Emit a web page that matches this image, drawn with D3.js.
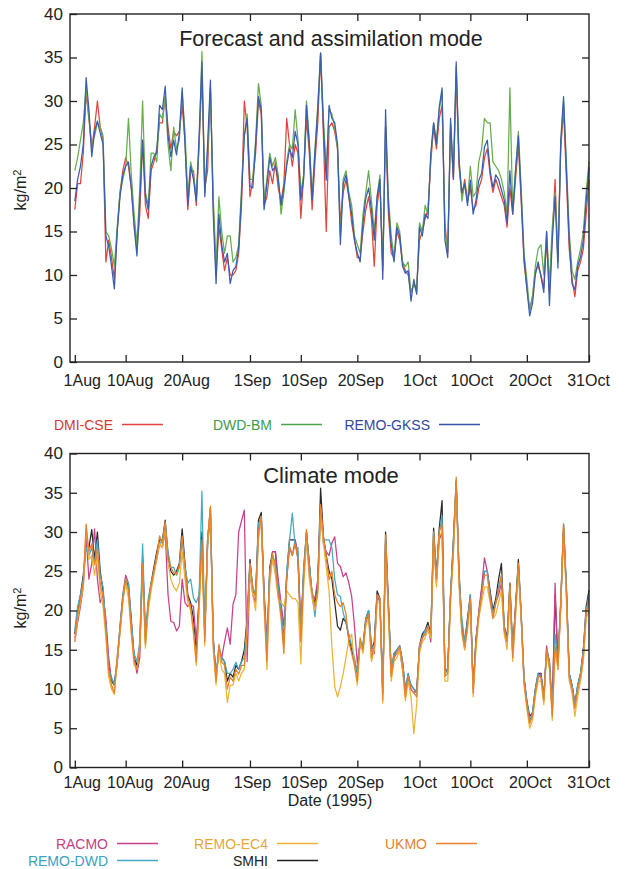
<!DOCTYPE html>
<html>
<head>
<meta charset="utf-8">
<script src="https://cdn.jsdelivr.net/npm/d3@7"></script>
<style>
  body { margin: 0; background: #fff; }
  svg { display: block; }
  text { font-family: "Liberation Sans", Arial, Helvetica, sans-serif; fill: #222; }
</style>
</head>
<body>
<svg id="chart" width="629" height="869"></svg>
<script>
// Precipitable water (kg/m2), 1 Aug – 31 Oct 1995, sampled every 12 hours.
// Day 0 = 1 Aug 00 UTC.
const tickDays   = [0, 9, 19, 31, 40, 50, 61, 70, 80, 91];
const tickLabels = ["1Aug", "10Aug", "20Aug", "1Sep", "10Sep", "20Sep", "1Oct", "10Oct", "20Oct", "31Oct"];
const yTicks     = [0, 5, 10, 15, 20, 25, 30, 35, 40];
const sampleStep = 0.5; // days between samples

// ---- Forecast and assimilation mode ----
const dmiCse = [
  17.5, 20.5, 20.5, 24, 31, 28, 24.5, 27, 30, 27,
  25.5, 11.5, 14, 12, 9.5, 15, 19.5, 22, 23.5, 22.5,
  20, 16, 13, 17, 25.5, 18, 16.5, 22, 23, 24.5,
  27.5, 27.5, 30.5, 27, 24.5, 26.5, 26, 26.5, 29.5, 25.5,
  17.5, 22, 22, 18, 25, 33, 20, 22, 31.5, 18,
  10, 15.5, 13, 10.5, 12, 10, 10, 10.5, 12.5, 18,
  30, 27, 19, 21, 24, 30, 28.5, 18, 19, 22,
  20.5, 23, 20, 18.5, 20.5, 28, 25, 22.5, 25, 24,
  16.5, 21.5, 28, 24, 17.5, 23, 27.5, 35.5, 26, 15,
  27, 27.5, 26.5, 24.5, 16, 19.5, 21, 19, 16, 14,
  12, 12, 15, 17.5, 19, 16.5, 11, 18, 20.5, 11,
  27, 17, 12.5, 12, 15, 14, 11.5, 10.5, 10, 8,
  9, 8.5, 14, 15, 16.5, 17.5, 23, 27, 24.5, 28,
  29.5, 16, 12.5, 27, 21, 33, 22.5, 19, 21, 18.5,
  20, 17.5, 18, 20, 21, 23.5, 24.5, 21.5, 19.5, 21,
  20, 19, 18, 15.5, 20, 17, 21, 25, 18.5, 11.5,
  8.5, 6, 7.5, 10.5, 11, 10, 8.5, 14, 8, 14.5,
  21, 11.5, 24.5, 29, 21, 13, 9.5, 7.5, 10.5, 11.5,
  13, 17, 21
];
const dwdBm = [
  22, 23.5, 25.5, 27.5, 31.5, 28, 25, 26, 27.5, 27,
  26, 15, 14.5, 13, 11, 15.5, 19.5, 21, 22.5, 28,
  21.5, 17, 13.5, 20, 30, 19.5, 18, 24, 24, 23,
  28.5, 28, 30.5, 25, 22, 27, 24.5, 25.5, 31, 26.5,
  19, 23, 21.5, 19, 25, 35.7, 19.5, 24, 31.5, 19,
  11, 19, 15, 12.5, 14.5, 14.5, 11.5, 12, 13.5, 20,
  26, 28.5, 21, 21, 25.5, 32, 29.5, 18.5, 21, 24,
  22.5, 23.5, 21.5, 17, 19.5, 23, 25, 24.5, 29, 25.5,
  19.5, 21.5, 30, 25.5, 19, 24.5, 29.5, 35.5, 28, 22,
  29, 28.5, 27, 24.5, 14.5, 21, 22, 19.5, 18, 14.5,
  13.5, 12.5, 17, 19.5, 22, 18.5, 15, 19, 21.5, 10.5,
  27, 19, 14.5, 12, 16, 15, 11.5, 11, 11.5, 8,
  9, 8, 16, 15, 18, 17, 23.5, 27.5, 25.5, 29,
  31, 15, 13, 27.5, 21.5, 34, 23.5, 18.5, 20.5, 18.5,
  22.5, 19, 19.5, 23, 24.5, 28, 27.5, 27.5, 23, 22.5,
  22, 21, 19.5, 17, 31.5, 17.5, 22, 26.5, 20, 12.5,
  9.5, 6, 7.5, 11, 13, 13.5, 10, 15, 9, 15.5,
  19.5, 12, 25, 30, 23, 15, 10.5, 9.5, 11.5, 13,
  15, 19.5, 23
];
const remoGkss = [
  18.5, 21, 22.5, 25, 32.7, 29, 23.6, 26.5, 27.7, 26.3,
  25, 14.5, 13.3, 11, 8.4, 15, 19, 21.5, 22.5, 23,
  20, 15.5, 12.2, 18.6, 25.5, 19, 17.5, 22.5, 23.6, 24,
  29.5, 29, 31.7, 26, 23.6, 25.5, 23.8, 26.3, 31.5, 25,
  18, 22.5, 21, 18.5, 26, 34.5, 19, 25, 32.4, 17,
  9, 17, 13.5, 11.5, 12.5, 9, 10.5, 11, 13, 19,
  26, 28, 20.2, 20, 25, 30.5, 29, 17.5, 20.5, 23.5,
  22, 22.5, 21, 18, 20, 22.5, 24.5, 23.5, 26.5, 25,
  18.6, 21, 29.5, 25, 18.6, 24, 29, 35.5, 27, 20.9,
  29.5, 28, 27.5, 25, 13.5, 20.5, 21.5, 19, 17, 14,
  12.5, 11.5, 16, 18.8, 20, 17.5, 14, 19, 21, 9.5,
  29, 18, 13.5, 11.5, 15.5, 14.5, 11, 10.2, 10.5, 7,
  9.5, 7.8, 15.5, 14.5, 17, 16.5, 24, 27.5, 25, 29.3,
  31.5, 14, 12, 28, 21, 34.5, 23, 19.5, 20.5, 18,
  20.9, 17, 18.6, 20.9, 21.7, 24.7, 25.5, 22, 20, 21.5,
  21, 19.8, 18.6, 16, 22, 17, 22, 26, 19, 12,
  8.5, 5.3, 6.7, 10, 11.5, 9.8, 8, 15, 6.5, 14,
  19, 10.8, 25.5, 30.5, 22, 14, 9, 8.3, 11, 12.1,
  14, 18.5, 22.4
];

// ---- Climate mode ----
const racmo = [
  16, 18.5, 20.5, 23, 29.5, 24, 26, 30.4, 24, 21,
  22, 19, 14, 11, 11, 13, 18, 22, 24.5, 23.5,
  19, 14, 12, 14, 27, 16, 20.5, 23, 25, 26.5,
  28.5, 28, 30, 22, 18.6, 18.5, 17.4, 18, 24, 21,
  20.5, 20.8, 20.5, 16, 21.5, 28, 17, 28.5, 32, 16,
  12, 14.5, 14, 16, 17.8, 15.7, 20.8, 22, 30, 31.4,
  32.8, 13.5, 25, 22, 21, 30, 31.5, 22.5, 16, 24,
  27.5, 27.5, 24, 21, 18, 24, 28, 27, 29, 27,
  18, 24.5, 29, 25.5, 22, 21.5, 24, 33, 28.5, 27.5,
  27, 28.6, 29.4, 26, 25.6, 24.3, 24.8, 23.5, 21.8, 18,
  13.3, 16, 15, 18.5, 19.5, 15, 14.5, 22, 21, 10,
  28.5, 20.5, 12, 14, 15, 15, 12.5, 10, 12, 10,
  9.5, 10, 15, 16.5, 17, 18, 16, 29, 23.5, 29,
  30, 12.5, 12.5, 22, 28, 36, 24, 17.5, 15, 18.5,
  21.5, 10, 16, 20, 23, 26.7, 25, 22, 19.5, 21,
  22, 23.5, 17.5, 16, 22, 14.5, 20.5, 25.5, 19, 11,
  8, 6, 6.5, 9.5, 11.5, 12, 8.5, 15.5, 13, 7,
  23.5, 12.5, 20.5, 30, 22.5, 11.5, 10.5, 8, 10, 11.5,
  14, 19.5, 21.5
];
const remoDwd = [
  17.5, 20.5, 22, 24, 28, 27, 28, 26, 29, 24.5,
  23, 18, 12.5, 11.5, 10.5, 14, 18, 22, 24, 23.5,
  18.5, 14.5, 13.5, 16, 28.5, 17, 21.5, 23.5, 25, 27,
  28.5, 29, 31, 27.5, 25.5, 25.5, 24.5, 25.5, 29, 25.5,
  23.5, 24, 21.6, 21, 22, 35.2, 17, 28, 32.5, 16.5,
  11.5, 15.5, 14, 13.5, 12, 12, 12.5, 13.4, 12.5, 13.5,
  14, 18.5, 26, 23, 22, 31, 32, 22, 15, 25,
  27, 26, 23, 20, 16, 25, 29, 32.4, 28, 28,
  17, 25.5, 30, 26, 22, 19.2, 23, 33, 29, 29,
  29, 28, 24, 22, 21.8, 19.7, 18.5, 17, 15.5, 14,
  12, 16, 15.5, 19, 20, 15.5, 15, 22, 21.5, 9.5,
  29, 20.5, 12.5, 14.5, 15, 15.5, 13.5, 10, 12, 10.5,
  10, 9.5, 15.5, 16.5, 17.5, 18, 16.5, 30, 24, 30,
  32, 12, 12.5, 22, 28.5, 36.5, 24.5, 19, 16, 18.5,
  22, 10, 16, 19.5, 22, 25, 25, 22, 19.5, 21,
  23, 24.5, 18, 16, 23, 14.5, 20, 26, 19.5, 11.5,
  8.5, 6, 7, 10, 12, 11.5, 9, 15, 13.5, 7.5,
  17, 13.5, 21, 30.5, 23, 12, 10.5, 8, 10.5, 12,
  15, 20, 22
];
const smhi = [
  17, 20, 22, 24.5, 28.5, 28, 30.3, 26.5, 30, 25,
  22.5, 18, 13, 11, 10.5, 13.5, 17.5, 21.5, 24, 23,
  18.5, 14, 13, 15.5, 26.5, 16.5, 21, 23.5, 25.5, 27.5,
  29, 29, 31.5, 27, 25, 24.5, 25, 26, 30.4, 26,
  22, 21, 19, 15, 21.5, 30, 17, 29, 33, 16.5,
  11.5, 15, 14, 13.5, 11, 12, 11.5, 13, 12.5, 13.5,
  15, 19, 26.5, 22.5, 22, 31.5, 32.5, 22, 15, 25.5,
  27.5, 27.5, 23, 20, 16, 24.5, 29, 29, 29, 26.5,
  17, 25, 30, 26, 22, 21, 23.5, 35.6, 29.4, 27,
  25, 24, 21, 18, 17.5, 19, 18.5, 16.5, 15, 13.5,
  12, 16, 15.5, 19, 20, 15, 16, 22.5, 21.5, 9.5,
  30, 21, 12, 14.5, 15, 15.5, 13.5, 10, 11.5, 10.5,
  10, 9.5, 15.5, 17, 17.5, 18.5, 17, 30.5, 24.5, 30.5,
  34, 12, 12.5, 22, 29, 36.5, 25, 18, 16, 19,
  22, 10, 16.5, 19.5, 22.5, 25, 25, 22.5, 20, 21.5,
  24, 26, 18, 16.5, 23.5, 15, 20.5, 26.5, 19.5, 11.5,
  8.5, 6.5, 7, 10, 12, 12, 9, 15, 13.5, 7,
  22, 13.5, 21, 31, 23, 12, 10.5, 8, 10.5, 12,
  15, 20.5, 22.6
];
const remoEc4 = [
  16, 19, 21, 23, 30.5, 26.5, 27, 24.5, 27, 22.5,
  20.5, 16.5, 11.5, 10, 9.3, 13.5, 17, 21, 23.5, 21.5,
  17, 13, 12.5, 15.5, 24.5, 15.2, 20, 22.5, 24.5, 26.5,
  28.5, 28, 30.5, 26, 24, 23, 22.5, 23.5, 27.5, 24,
  21, 20, 17, 13, 20, 27.5, 15.5, 28.5, 33, 15,
  10.5, 15, 12.5, 12, 8.3, 10.5, 10.5, 12, 11, 12,
  12.5, 17.5, 25, 22, 20, 29, 31.5, 20.5, 12.5, 23.5,
  26.5, 24.5, 21.5, 21, 20.5, 22.5, 22, 21.5, 21.5, 21,
  13.2, 23, 29, 24, 21.5, 20, 22, 32.5, 28.5, 25.5,
  22.5, 15.4, 10.3, 9, 10.3, 12, 14.1, 16.2, 17, 13,
  10.5, 16, 14.5, 18, 19, 13.5, 15, 21, 21, 8.2,
  28.5, 19, 11, 13.5, 14, 15, 12.5, 8.5, 11, 9,
  4.3, 8, 14.5, 16, 16.5, 17.5, 16.5, 29.5, 23, 29.5,
  30, 11, 11, 21, 27, 36, 23, 17, 15, 17.5,
  21, 9, 15, 19, 21, 23, 23, 21, 19, 19.5,
  21, 22.5, 17, 15, 22, 13.5, 19, 25, 19, 10.5,
  7.5, 5, 6, 9, 11, 11, 8, 14.5, 12.5, 6,
  15, 12.5, 20.5, 30.5, 21.5, 11, 9.5, 6.5, 9, 11,
  13.5, 19, 20
];
const ukmo = [
  16.5, 19.5, 21.5, 23.5, 31, 27.5, 28.5, 25.8, 28, 23.5,
  21.6, 17.4, 12.3, 10.5, 9.5, 14, 17.5, 21.5, 24, 22.5,
  17.5, 13.5, 12.5, 15, 26, 15.7, 20.8, 23.3, 25, 27,
  29.5, 28.5, 31.3, 26.5, 25.5, 24.8, 24.6, 25.8, 29.5, 25.5,
  21.6, 20.5, 17.5, 13.5, 21, 29, 16, 29, 33.3, 15.7,
  11, 15.7, 13.5, 13, 10, 11.5, 11, 12.5, 11.9, 13,
  13, 18, 26, 23, 21.5, 30, 32, 21, 13.5, 25,
  27.3, 25.5, 22, 19, 14.5, 24, 28.2, 27, 28.5, 26.5,
  16, 24, 30.3, 25, 22.5, 20.5, 22.5, 33.5, 29.4, 26.9,
  23.9, 25, 22, 21, 20.5, 21, 19.5, 16, 14.5, 13,
  11, 16.5, 15, 18.8, 19.5, 14, 15.5, 22, 21.5, 8.6,
  29.6, 20, 11.6, 14, 14.5, 15.4, 13, 9, 11.6, 9.9,
  9.5, 9, 15.5, 16.5, 17, 18, 17, 30, 24, 30,
  31, 11.6, 12, 21.8, 28, 37, 24, 17.5, 15.4, 18,
  21.5, 9.5, 15.8, 19.5, 22, 24.5, 24.5, 21.5, 19, 20.9,
  22.5, 24.5, 17.5, 16, 23.5, 14, 20, 26, 19.5, 11,
  8, 5.6, 6.5, 9.5, 11.6, 11.5, 8.6, 15, 13, 6.5,
  15.5, 13, 21, 31, 22, 11.6, 10, 7.5, 10, 11.6,
  14.5, 20, 21
];

const days = ukmo.map((_, i) => i * sampleStep);

const panels = [
  {
    title: "Forecast and assimilation mode", titleY: 46, titleSize: 21.5,
    top: 14, bottom: 362, labelPad: 13, ylabelY: 190,
    series: [
      { name: "DMI-CSE",   values: dmiCse,   color: "#e2443c" },
      { name: "DWD-BM",    values: dwdBm,    color: "#66ad4e" },
      { name: "REMO-GKSS", values: remoGkss, color: "#3a5eae" }
    ]
  },
  {
    title: "Climate mode", titleY: 483, titleSize: 22,
    top: 453.5, bottom: 767.5, labelPad: 9, ylabelY: 608,
    series: [
      { name: "SMHI",     values: smhi,    color: "#2a2a2a" },
      { name: "RACMO",    values: racmo,   color: "#c8418a" },
      { name: "REMO-DWD", values: remoDwd, color: "#44a8c6" },
      { name: "REMO-EC4", values: remoEc4, color: "#eeb236" },
      { name: "UKMO",     values: ukmo,    color: "#e6812c" }
    ]
  }
];

// horizontal nudges for the date labels (first one clears the "0")
const labelShift = [7, 4, 4, 2, 3, 3, 0, 1, 3, -1];

const svg = d3.select("#chart");
const x = d3.scaleLinear().domain([-0.85, 91]).range([70, 589]);

panels.forEach(p => {
  const y = d3.scaleLinear().domain([0, 40]).range([p.bottom, p.top]);
  const g = svg.append("g");

  const line = d3.line()
    .x((d, i) => x(days[i]))
    .y(d => y(d));

  p.series.forEach(s => {
    g.append("path")
      .attr("d", line(s.values))
      .attr("fill", "none")
      .attr("stroke", s.color)
      .attr("stroke-width", 1.25)
      .attr("stroke-linejoin", "round");
  });

  // inward ticks on all four sides
  const axL = g.append("g").attr("transform", `translate(${x.range()[0]},0)`)
    .call(d3.axisLeft(y).tickValues(yTicks).tickSize(-7).tickPadding(7));
  axL.selectAll("text").style("font-size", "17px");

  g.append("g").attr("transform", `translate(${x.range()[1]},0)`)
    .call(d3.axisRight(y).tickValues(yTicks.slice(1, -1)).tickSize(-7).tickFormat(""));

  const axB = g.append("g").attr("transform", `translate(0,${p.bottom})`)
    .call(d3.axisBottom(x).tickValues(tickDays).tickSize(-7).tickPadding(p.labelPad)
      .tickFormat((d, i) => tickLabels[i]));
  axB.selectAll("text").style("font-size", "16px")
    .attr("dx", (d, i) => labelShift[i]);

  g.append("g").attr("transform", `translate(0,${p.top})`)
    .call(d3.axisTop(x).tickValues(tickDays.slice(1, -1)).tickSize(-7).tickFormat(""));

  g.selectAll(".domain").remove();
  g.selectAll(".tick line").attr("stroke", "#222").attr("stroke-width", 1.3);
  g.selectAll(".tick text").attr("fill", "#222");

  g.append("rect")
    .attr("x", x.range()[0]).attr("y", p.top)
    .attr("width", x.range()[1] - x.range()[0]).attr("height", p.bottom - p.top)
    .attr("fill", "none").attr("stroke", "#222").attr("stroke-width", 1.4);

  g.append("text")
    .attr("x", 331).attr("y", p.titleY)
    .attr("text-anchor", "middle")
    .style("font-size", p.titleSize + "px")
    .text(p.title);

  const yl = g.append("text")
    .attr("transform", `translate(26,${p.ylabelY}) rotate(-90)`)
    .attr("text-anchor", "middle")
    .style("font-size", "16px");
  yl.append("tspan").text("kg/m");
  yl.append("tspan").attr("dy", "-0.45em").style("font-size", "11px").text("2");
});

svg.append("text")
  .attr("x", 330).attr("y", 806)
  .attr("text-anchor", "middle")
  .style("font-size", "16px")
  .text("Date (1995)");

// legends: label right-aligned, sample line to its right
const legendItems = [
  { name: "DMI-CSE",   color: "#e2443c", text: "#d23a2e", x: 113, y: 430 },
  { name: "DWD-BM",    color: "#4ea24a", text: "#3f9a4c", x: 272, y: 430 },
  { name: "REMO-GKSS", color: "#3a52a4", text: "#34479a", x: 430, y: 430 },
  { name: "RACMO",     color: "#c8418a", text: "#c63d80", x: 108, y: 849 },
  { name: "REMO-DWD",  color: "#44a8c6", text: "#3ba2c0", x: 108, y: 866 },
  { name: "REMO-EC4",  color: "#eeb236", text: "#e6a63a", x: 268, y: 849 },
  { name: "SMHI",      color: "#222222", text: "#222222", x: 268, y: 866 },
  { name: "UKMO",      color: "#e6812c", text: "#df8232", x: 427, y: 849 }
];
const lg = svg.append("g");
legendItems.forEach(d => {
  lg.append("text")
    .attr("x", d.x).attr("y", d.y)
    .attr("text-anchor", "end")
    .style("font-size", "14px")
    .style("fill", d.text)
    .text(d.name);
  lg.append("line")
    .attr("x1", d.x + 9).attr("x2", d.x + 50)
    .attr("y1", d.y - 5.5).attr("y2", d.y - 5.5)
    .attr("stroke", d.color).attr("stroke-width", 1.6);
});
</script>
</body>
</html>
